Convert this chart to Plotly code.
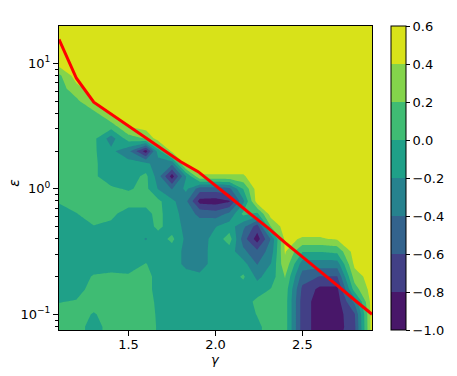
import plotly.graph_objects as go

# ---------------- data ----------------
gamma_grid = [1.1, 1.2, 1.3, 1.4, 1.5, 1.6, 1.67, 1.75, 1.83, 1.91, 2.0,
              2.08, 2.16, 2.24, 2.32, 2.4, 2.5, 2.6, 2.7, 2.8, 2.9]

log10_eps_grid = [-1.2, -1.1, -1.0, -0.9, -0.8, -0.7, -0.6, -0.5, -0.4, -0.3,
                  -0.2, -0.1, 0.0, 0.1, 0.2, 0.3, 0.4, 0.5, 0.6, 0.7, 0.8,
                  0.9, 1.0, 1.1, 1.2, 1.3, 1.4]

# one list per gamma column, values from lowest to highest epsilon
z_columns = [
    [0.1, 0.1, 0.1, -0.01, -0.1, -0.1, -0.1, -0.1, -0.1, -0.1, -0.1, 0.02, 0.1, 0.1, 0.1, 0.1, 0.1, 0.1, 0.1, 0.1, 0.1, 0.15, 0.5, 0.5, 0.5, 0.5, 0.5],
    [0.1, 0.1, 0.1, 0.02, -0.1, -0.1, -0.1, -0.1, -0.1, -0.1, -0.01, 0.1, 0.1, 0.1, 0.1, 0.1, 0.1, 0.1, 0.1, 0.15, 0.33, 0.5, 0.5, 0.5, 0.5, 0.5, 0.5],
    [-0.1, -0.1, -0.02, 0.1, 0.1, 0.02, -0.1, -0.1, -0.1, -0.01, 0.1, 0.1, 0.1, 0.03, 0.03, 0.03, 0.05, 0.1, 0.13, 0.42, 0.5, 0.5, 0.5, 0.5, 0.5, 0.5, 0.5],
    [0.1, 0.1, 0.1, 0.1, 0.1, 0.05, -0.1, -0.1, -0.1, -0.05, 0.05, 0.1, 0.03, -0.1, -0.1, -0.15, -0.3, 0.1, 0.41, 0.5, 0.5, 0.5, 0.5, 0.5, 0.5, 0.5, 0.5],
    [0.1, 0.1, 0.1, 0.1, 0.1, 0.03, -0.1, -0.1, -0.1, -0.1, -0.1, 0.1, -0.02, -0.1, -0.12, -0.35, 0.1, 0.42, 0.5, 0.5, 0.5, 0.5, 0.5, 0.5, 0.5, 0.5, 0.5],
    [0.1, 0.1, 0.1, 0.1, 0.1, 0.1, 0.01, -0.1, -0.21, -0.1, -0.05, 0.05, 0.05, 0.05, -0.15, -0.9, 0.21, 0.5, 0.5, 0.5, 0.5, 0.5, 0.5, 0.5, 0.5, 0.5, 0.5],
    [-0.02, -0.02, -0.03, -0.05, -0.1, -0.1, -0.1, -0.1, -0.1, 0.05, 0.05, 0.05, -0.21, -0.3, -0.3, -0.1, 0.5, 0.5, 0.5, 0.5, 0.5, 0.5, 0.5, 0.5, 0.5, 0.5, 0.5],
    [-0.1, -0.1, -0.1, -0.1, -0.1, -0.1, -0.1, -0.1, 0.05, -0.1, -0.1, -0.15, -0.41, -0.9, -0.35, 0.45, 0.5, 0.5, 0.5, 0.5, 0.5, 0.5, 0.5, 0.5, 0.5, 0.5, 0.5],
    [-0.1, -0.1, -0.1, -0.1, -0.1, -0.12, -0.25, -0.25, -0.25, -0.25, -0.3, -0.35, -0.15, -0.21, 0.5, 0.5, 0.5, 0.5, 0.5, 0.5, 0.5, 0.5, 0.5, 0.5, 0.5, 0.5, 0.5],
    [-0.1, -0.1, -0.1, -0.1, -0.1, -0.15, -0.3, -0.3, -0.3, -0.3, -0.45, -0.88, -0.5, 0.38, 0.5, 0.5, 0.5, 0.5, 0.5, 0.5, 0.5, 0.5, 0.5, 0.5, 0.5, 0.5, 0.5],
    [-0.1, -0.1, -0.1, -0.1, -0.1, -0.1, -0.1, -0.1, -0.12, -0.21, -0.5, -0.9, -0.5, 0.38, 0.5, 0.5, 0.5, 0.5, 0.5, 0.5, 0.5, 0.5, 0.5, 0.5, 0.5, 0.5, 0.5],
    [-0.1, -0.1, -0.1, -0.1, -0.1, -0.1, -0.1, -0.1, 0.1, -0.1, -0.35, -0.82, -0.45, 0.38, 0.5, 0.5, 0.5, 0.5, 0.5, 0.5, 0.5, 0.5, 0.5, 0.5, 0.5, 0.5, 0.5],
    [-0.1, -0.1, -0.1, -0.1, -0.1, 0.03, -0.12, -0.35, -0.5, -0.35, 0.05, -0.25, 0.01, 0.38, 0.5, 0.5, 0.5, 0.5, 0.5, 0.5, 0.5, 0.5, 0.5, 0.5, 0.5, 0.5, 0.5],
    [-0.05, -0.05, 0.01, 0.05, -0.1, -0.25, -0.41, -0.55, -0.9, -0.7, -0.05, 0.5, 0.5, 0.5, 0.5, 0.5, 0.5, 0.5, 0.5, 0.5, 0.5, 0.5, 0.5, 0.5, 0.5, 0.5, 0.5],
    [0.1, 0.1, 0.1, 0.1, 0.01, -0.1, -0.19, -0.3, -0.38, 0.21, 0.5, 0.5, 0.5, 0.5, 0.5, 0.5, 0.5, 0.5, 0.5, 0.5, 0.5, 0.5, 0.5, 0.5, 0.5, 0.5, 0.5],
    [0.1, 0.1, 0.1, 0.1, 0.12, 0.21, 0.35, 0.42, 0.45, 0.5, 0.5, 0.5, 0.5, 0.5, 0.5, 0.5, 0.5, 0.5, 0.5, 0.5, 0.5, 0.5, 0.5, 0.5, 0.5, 0.5, 0.5],
    [-0.7, -0.7, -0.7, -0.7, -0.65, -0.5, -0.3, 0.01, 0.38, 0.5, 0.5, 0.5, 0.5, 0.5, 0.5, 0.5, 0.5, 0.5, 0.5, 0.5, 0.5, 0.5, 0.5, 0.5, 0.5, 0.5, 0.5],
    [-0.9, -0.9, -0.9, -0.9, -0.85, -0.61, -0.3, 0.01, 0.38, 0.5, 0.5, 0.5, 0.5, 0.5, 0.5, 0.5, 0.5, 0.5, 0.5, 0.5, 0.5, 0.5, 0.5, 0.5, 0.5, 0.5, 0.5],
    [-0.85, -0.9, -0.9, -0.9, -0.85, -0.61, -0.3, 0.05, 0.42, 0.5, 0.5, 0.5, 0.5, 0.5, 0.5, 0.5, 0.5, 0.5, 0.5, 0.5, 0.5, 0.5, 0.5, 0.5, 0.5, 0.5, 0.5],
    [-0.65, -0.65, -0.62, -0.35, 0.1, 0.3, 0.45, 0.5, 0.5, 0.5, 0.5, 0.5, 0.5, 0.5, 0.5, 0.5, 0.5, 0.5, 0.5, 0.5, 0.5, 0.5, 0.5, 0.5, 0.5, 0.5, 0.5],
    [0.5, 0.5, 0.5, 0.5, 0.5, 0.5, 0.5, 0.5, 0.5, 0.5, 0.5, 0.5, 0.5, 0.5, 0.5, 0.5, 0.5, 0.5, 0.5, 0.5, 0.5, 0.5, 0.5, 0.5, 0.5, 0.5, 0.5],
]

# red boundary curve
gamma_line = [1.1, 1.2, 1.3, 1.4, 1.5, 1.6, 1.7, 1.8, 1.9, 2.0,
              2.1, 2.2, 2.3, 2.4, 2.5, 2.6, 2.7, 2.8, 2.9]
eps_line = [15.5, 7.6, 4.9, 3.94, 3.16, 2.54, 2.04, 1.64, 1.37, 1.07,
            0.822, 0.631, 0.49, 0.372, 0.288, 0.221, 0.17, 0.13, 0.1]

levels_ticks = [-1.0, -0.8, -0.6, -0.4, -0.2, 0.0, 0.2, 0.4, 0.6]
levels_text = ["\u22121.0", "\u22120.8", "\u22120.6", "\u22120.4", "\u22120.2",
               "0.0", "0.2", "0.4", "0.6"]
band_colors = ["#481769", "#424086", "#33638d", "#26828e",
               "#1fa088", "#3fbc73", "#84d44b", "#d8e219"]

y_tickvals = [0.1, 1, 10]
y_ticktext = ["10<sup>\u22121</sup>", "10<sup>0</sup>", "10<sup>1</sup>"]
y_minor = [0.08, 0.09, 0.2, 0.3, 0.4, 0.5, 0.6, 0.7, 0.8, 0.9,
           2, 3, 4, 5, 6, 7, 8, 9]

# ---------------- build ----------------
eps_grid = [10 ** v for v in log10_eps_grid]
z = [list(row) for row in zip(*z_columns)]
nb = len(band_colors)

# contour fill colours are sampled at (1+k)/9 of the scale -> centre steps there
contour_scale = []
for k, c in enumerate(band_colors):
    lo = 0.0 if k == 0 else (0.5 + k) / 9.0
    hi = 1.0 if k == nb - 1 else (1.5 + k) / 9.0
    contour_scale += [[lo, c], [hi, c]]

# colour bar scale: 8 equal steps over -1 .. 0.6
bar_scale = []
for k, c in enumerate(band_colors):
    bar_scale += [[k / nb, c], [(k + 1) / nb, c]]

font_family = "DejaVu Sans"

fig = go.Figure()
fig.add_trace(go.Contour(
    x=gamma_grid, y=eps_grid, z=z,
    autocontour=False,
    contours=dict(start=-1.0, end=0.6, size=0.2, coloring="fill", showlines=False),
    line=dict(width=0, smoothing=0),
    colorscale=contour_scale,
    showscale=False,
    hoverinfo="skip",
))
fig.add_trace(go.Scatter(
    x=gamma_line, y=eps_line, mode="lines",
    line=dict(color="#ff0000", width=3), showlegend=False, hoverinfo="skip",
))
# invisible helper that carries the colour bar (-1.0 .. 0.6)
fig.add_trace(go.Scatter(
    x=[gamma_grid[0], gamma_grid[0]], y=[eps_grid[0], eps_grid[0]],
    mode="markers", hoverinfo="skip", showlegend=False,
    marker=dict(
        size=1, opacity=0, color=[levels_ticks[0], levels_ticks[-1]],
        cmin=levels_ticks[0], cmax=levels_ticks[-1], colorscale=bar_scale,
        showscale=True,
        colorbar=dict(
            x=(397 - 59) / 319, xanchor="left", xpad=0, ypad=0,
            y=0.5, yanchor="middle", len=1, lenmode="fraction",
            thickness=15, outlinewidth=1, outlinecolor="black",
            tickmode="array", tickvals=levels_ticks, ticktext=levels_text,
            ticks="outside", ticklen=4, tickcolor="black",
            tickfont=dict(family=font_family, size=13, color="black"),
        ),
    ),
))

fig.update_layout(
    width=457, height=376,
    margin=dict(l=59, r=79, t=26, b=46),
    paper_bgcolor="white", plot_bgcolor="white",
    font=dict(family=font_family, size=13, color="black"),
    showlegend=False,
    xaxis=dict(
        range=[1.1, 2.9], tickmode="array", tickvals=[1.5, 2.0, 2.5],
        ticktext=["1.5", "2.0", "2.5"], ticks="outside", ticklen=5,
        tickcolor="black", showline=True, linecolor="black", linewidth=1,
        mirror=True, showgrid=False, zeroline=False, ticklabelstandoff=-3,
        automargin=False,
    ),
    yaxis=dict(
        type="log", range=[-1.125, 1.297], tickmode="array",
        tickvals=y_tickvals, ticktext=y_ticktext, ticks="outside", ticklen=5,
        tickcolor="black", showline=True, linecolor="black", linewidth=1,
        mirror=True, showgrid=False, zeroline=False, automargin=False,
        minor=dict(tickmode="array", tickvals=y_minor, ticks="outside",
                   ticklen=3, tickcolor="black", showgrid=False),
    ),
    annotations=[
        dict(text="<i>\u03b3</i>", xref="paper", yref="paper",
             x=0.5, y=(330 - 359) / 304, xanchor="center", yanchor="middle",
             showarrow=False, font=dict(size=13)),
        dict(text="<i>\u03b5</i>", xref="paper", yref="paper",
             x=(13 - 59) / 319, y=(330 - 183) / 304, xanchor="center",
             yanchor="middle", textangle=-90, showarrow=False,
             font=dict(size=14)),
    ],
)

fig.write_html("out.html", config={"displayModeBar": False},
               post_script="document.body.style.margin='0';")
